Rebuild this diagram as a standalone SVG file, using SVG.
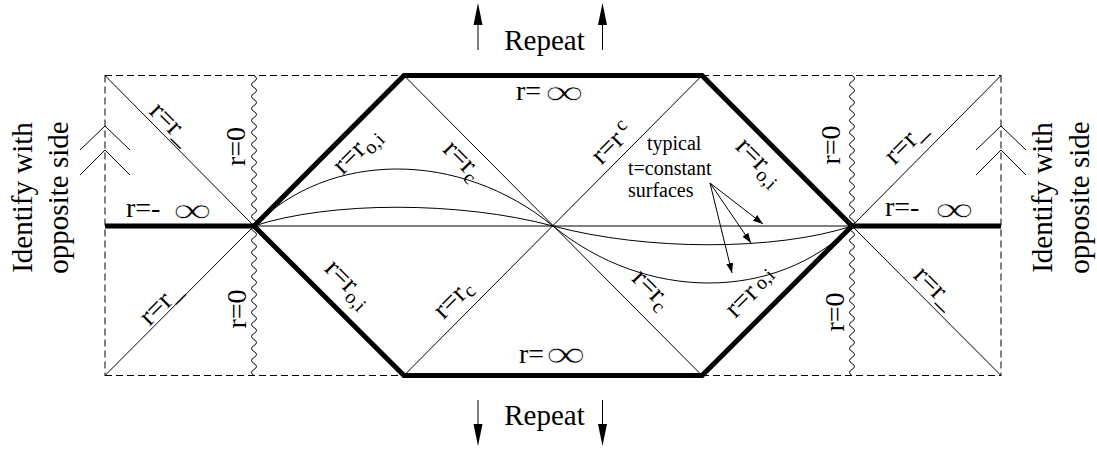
<svg xmlns="http://www.w3.org/2000/svg" width="1097" height="451" viewBox="0 0 1097 451">
<style>
text{font-family:'Liberation Serif','Tinos','Times New Roman','DejaVu Serif',serif;fill:#000}
.lbl{font-size:28px}
.sub{font-size:20px}
.inf{font-size:30px;stroke:#fff;stroke-width:0.55}
.thin{stroke:#000;stroke-width:1;fill:none}
.thick{stroke:#000;stroke-width:5;fill:none;stroke-linejoin:miter}
.dash{stroke:#000;stroke-width:1;stroke-dasharray:7 4;fill:none}
.wavy{stroke:#000;stroke-width:1;fill:none}
.ah{fill:#000;stroke:none}
</style>
<defs>
<marker id="arr" markerUnits="userSpaceOnUse" markerWidth="11" markerHeight="8" refX="10" refY="3.5" orient="auto">
<path d="M0,0 L10,3.5 L0,7 Z" fill="#000"/>
</marker>
</defs>
<rect width="1097" height="451" fill="#fff"/>

<g id="frame">
<path class="dash" d="M105,75.5 H404 M702,75.5 H1001 M105,375.5 H404 M702,375.5 H1001 M105,75.5 V375.5 M1001,75.5 V375.5"/>
<path class="wavy" d="M254,75.5 q5,3 0,6 t0,6 t0,6 t0,6 t0,6 t0,6 t0,6 t0,6 t0,6 t0,6 t0,6 t0,6 t0,6 t0,6 t0,6 t0,6 t0,6 t0,6 t0,6 t0,6 t0,6 t0,6 t0,6 t0,6 t0,6 t0,6 t0,6 t0,6 t0,6 t0,6 t0,6 t0,6 t0,6 t0,6 t0,6 t0,6 t0,6 t0,6 t0,6 t0,6 t0,6 t0,6 t0,6 t0,6 t0,6 t0,6 t0,6 t0,6 t0,6 t0,6"/>
<path class="wavy" d="M852,75.5 q5,3 0,6 t0,6 t0,6 t0,6 t0,6 t0,6 t0,6 t0,6 t0,6 t0,6 t0,6 t0,6 t0,6 t0,6 t0,6 t0,6 t0,6 t0,6 t0,6 t0,6 t0,6 t0,6 t0,6 t0,6 t0,6 t0,6 t0,6 t0,6 t0,6 t0,6 t0,6 t0,6 t0,6 t0,6 t0,6 t0,6 t0,6 t0,6 t0,6 t0,6 t0,6 t0,6 t0,6 t0,6 t0,6 t0,6 t0,6 t0,6 t0,6 t0,6"/>
</g>

<g id="horizons">
<path class="thin" d="M105,75.5 L254,226 L105,375.5 M1001,75.5 L852,226 L1001,375.5 M404,75.5 L702,375.5 M702,75.5 L404,375.5 M254,226 H852"/>
</g>

<g id="boundaries">
<path class="thick" d="M254,226 L404,75.5 L702,75.5 L852,226 L702,375.5 L404,375.5 Z"/>
<path class="thick" d="M105,226 H254 M852,226 H1001"/>
</g>

<g id="surfaces">
<path class="thin" d="M254,226 C330,150 460,150 553,226"/>
<path class="thin" d="M254,226 C330,201 460,201 553,226"/>
<path class="thin" d="M852,226 C776,302 646,302 553,226"/>
<path class="thin" d="M852,226 C776,251 646,251 553,226"/>
</g>

<g id="identify-left">
<path class="thin" d="M80,150 L105,126 L130,150 M80,175 L105,150 L130,175"/>
<text font-size="29" text-anchor="middle" transform="translate(32,197.5) rotate(-90)">Identify with</text>
<text font-size="29" text-anchor="middle" transform="translate(68,197.5) rotate(-90)">opposite side</text>
</g>

<g id="identify-right">
<path class="thin" d="M976,150 L1001,126 L1026,150 M976,175 L1001,150 L1026,175"/>
<text font-size="29" text-anchor="middle" transform="translate(1052,197.5) rotate(-90)">Identify with</text>
<text font-size="29" text-anchor="middle" transform="translate(1089,197.5) rotate(-90)">opposite side</text>
</g>

<g id="repeat-top">
<line class="thin" x1="478" y1="50" x2="478" y2="24" stroke-width="1.5"/>
<polygon class="ah" points="478,3 473.5,25 482.5,25"/>
<line class="thin" x1="602.5" y1="50" x2="602.5" y2="24" stroke-width="1.5"/>
<polygon class="ah" points="602.5,3 598,25 607,25"/>
<text font-size="29" x="544.5" y="50" text-anchor="middle">Repeat</text>
</g>

<g id="repeat-bottom">
<line class="thin" x1="478" y1="400" x2="478" y2="426" stroke-width="1.5"/>
<polygon class="ah" points="478,446 473.5,424 482.5,424"/>
<line class="thin" x1="602.5" y1="400" x2="602.5" y2="426" stroke-width="1.5"/>
<polygon class="ah" points="602.5,446 598,424 607,424"/>
<text font-size="29" x="544.5" y="425" text-anchor="middle">Repeat</text>
</g>

<g id="labels">
<text class="lbl" x="126" y="217">r=-</text>
<text class="inf" transform="translate(173,221.5) scale(1.8,1.2)">∞</text>
<text class="lbl" x="885" y="216">r=-</text>
<text class="inf" transform="translate(935,220.5) scale(1.8,1.2)">∞</text>
<text class="lbl" x="516" y="100">r=</text>
<text class="inf" transform="translate(545,104) scale(1.8,1.2)">∞</text>
<text class="lbl" x="519" y="363">r=</text>
<text class="inf" transform="translate(546,367) scale(1.85,1.3)">∞</text>

<text class="lbl" text-anchor="middle" transform="translate(245,146.5) rotate(-90)">r=0</text>
<text class="lbl" text-anchor="middle" transform="translate(246,309) rotate(-90)">r=0</text>
<text class="lbl" text-anchor="middle" transform="translate(840,145) rotate(-90)">r=0</text>
<text class="lbl" text-anchor="middle" transform="translate(844,312) rotate(-90)">r=0</text>

<text class="lbl" text-anchor="middle" y="5" transform="translate(169,126) rotate(45)">r=r_</text>
<text class="lbl" text-anchor="middle" y="5" transform="translate(163,306) rotate(-45)">r=r_</text>
<text class="lbl" text-anchor="middle" y="5" transform="translate(908,145) rotate(-45)">r=r_</text>
<text class="lbl" text-anchor="middle" y="5" transform="translate(933,290) rotate(45)">r=r_</text>

<text class="lbl" text-anchor="middle" y="3" transform="translate(360,154) rotate(-45)">r=r<tspan class="sub" dy="6">o,i</tspan></text>
<text class="lbl" text-anchor="middle" y="3" transform="translate(756,165) rotate(45)">r=r<tspan class="sub" dy="6">o,i</tspan></text>
<text class="lbl" text-anchor="middle" y="3" transform="translate(345,287) rotate(45)">r=r<tspan class="sub" dy="6">o,i</tspan></text>
<text class="lbl" text-anchor="middle" y="3" transform="translate(754,296) rotate(-45)">r=r<tspan class="sub" dx="4" dy="-1">o,i</tspan></text>

<text class="lbl" text-anchor="middle" y="4" transform="translate(460,163) rotate(45)">r=r<tspan class="sub" dy="6">c</tspan></text>
<text class="lbl" text-anchor="middle" y="7" transform="translate(613,144) rotate(-45)">r=r<tspan class="sub" dx="4" dy="-9">c</tspan></text>
<text class="lbl" text-anchor="middle" y="4" transform="translate(456,302) rotate(-45)">r=r<tspan class="sub" dy="4">c</tspan></text>
<text class="lbl" text-anchor="middle" y="4" transform="translate(649,292) rotate(45)">r=r<tspan class="sub" dy="6">c</tspan></text>
</g>

<g id="note">
<text font-size="20" x="647" y="150">typical</text>
<text font-size="20" x="628" y="175">t=constant</text>
<text font-size="20" x="628" y="197">surfaces</text>
</g>

<g id="connectors">
<line class="thin" x1="710" y1="183" x2="763" y2="224" marker-end="url(#arr)"/>
<line class="thin" x1="710" y1="183" x2="751" y2="243" marker-end="url(#arr)"/>
<line class="thin" x1="710" y1="183" x2="732" y2="273" marker-end="url(#arr)"/>
</g>
</svg>
